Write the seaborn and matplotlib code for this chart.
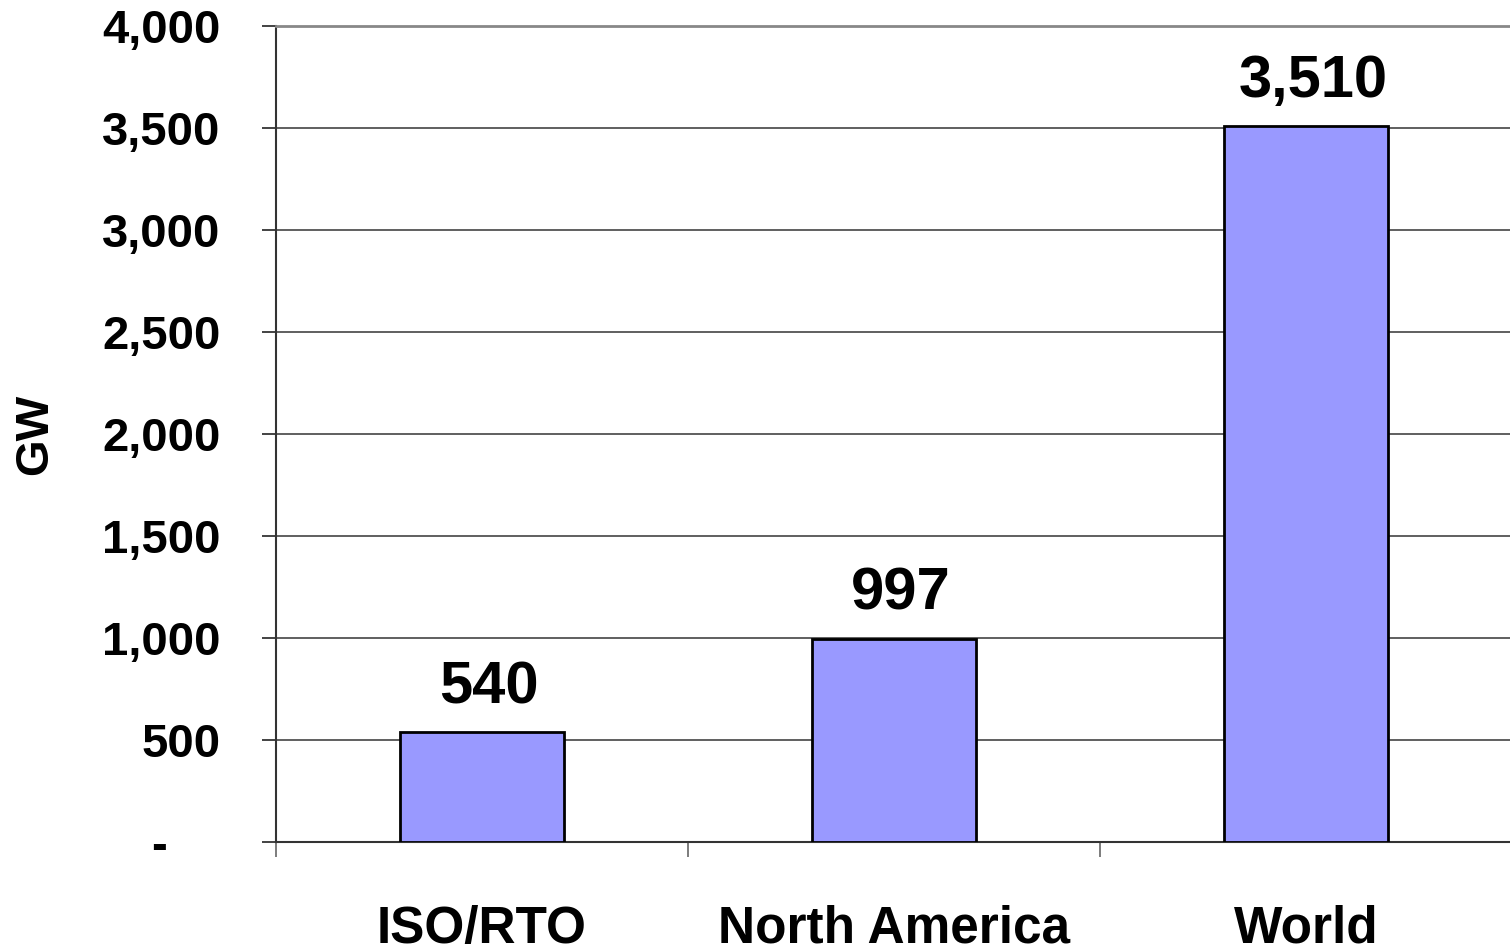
import matplotlib
matplotlib.use("Agg")
import matplotlib.pyplot as plt
import seaborn as sns
import pandas as pd

regions = ["ISO/RTO", "North America", "World"]
capacity_gw = [540, 997, 3510]
y_ticks = [0, 500, 1000, 1500, 2000, 2500, 3000, 3500, 4000]
y_tick_labels = ["-    ", "500", "1,000", "1,500", "2,000", "2,500", "3,000", "3,500", "4,000"]
bar_labels = ["540", "997", "3,510"]

sns.set_style("white")
plt.rcParams["font.family"] = ["Liberation Sans", "DejaVu Sans"]
plt.rcParams["font.weight"] = "bold"
plt.rcParams["text.color"] = "black"
plt.rcParams["xtick.labelcolor"] = "black"
plt.rcParams["ytick.labelcolor"] = "black"
plt.rcParams["axes.labelcolor"] = "black"

df = pd.DataFrame({"Region": regions, "GW": capacity_gw})

fig = plt.figure(figsize=(15.1, 9.51), dpi=100)
ax = fig.add_axes([276 / 1510, 1 - 842 / 951, 1236 / 1510, (842 - 26) / 951])

sns.barplot(data=df, x="Region", y="GW", color="#9999FF", saturation=1,
            width=0.4, edgecolor="black", linewidth=2, ax=ax, zorder=3)

ax.set_xlim(-0.5, 2.5)
ax.set_ylim(0, 4000)
ax.set_yticks(y_ticks)
ax.set_yticklabels(y_tick_labels, fontsize=34, fontweight="bold", color="black")
ax.yaxis.grid(True, color="#444444", linewidth=1.2, zorder=0)
ax.set_axisbelow(True)

# category labels centred, tick marks on the boundaries
ax.set_xticks([0, 1, 2])
ax.set_xticklabels(regions, fontsize=37, fontweight="bold", color="black")
ax.set_xticks([-0.5, 0.5, 1.5, 2.5], minor=True)
ax.tick_params(axis="x", which="major", length=0, pad=45)
ax.tick_params(axis="x", which="minor", length=11, width=1.2, color="#666666", direction="out", bottom=True)
ax.tick_params(axis="y", length=10, width=1.2, color="#222222", direction="out", left=True, pad=30)

ax.set_xlabel("")
ax.set_ylabel("GW", fontsize=34, fontweight="bold", color="black")
ax.yaxis.set_label_coords(-0.177, 0.5)

ax.spines["right"].set_visible(False)
ax.spines["top"].set_color("#888888")
ax.spines["top"].set_linewidth(2)
ax.spines["left"].set_color("#333333")
ax.spines["left"].set_linewidth(1.5)
ax.spines["bottom"].set_color("#333333")
ax.spines["bottom"].set_linewidth(1.5)

for i, (val, lab) in enumerate(zip(capacity_gw, bar_labels)):
    ax.annotate(lab, (i, val), xytext=(5, 12), textcoords="offset points",
                ha="center", va="bottom", fontsize=43, fontweight="bold", color="black")

fig.savefig("out.png", dpi=100)
